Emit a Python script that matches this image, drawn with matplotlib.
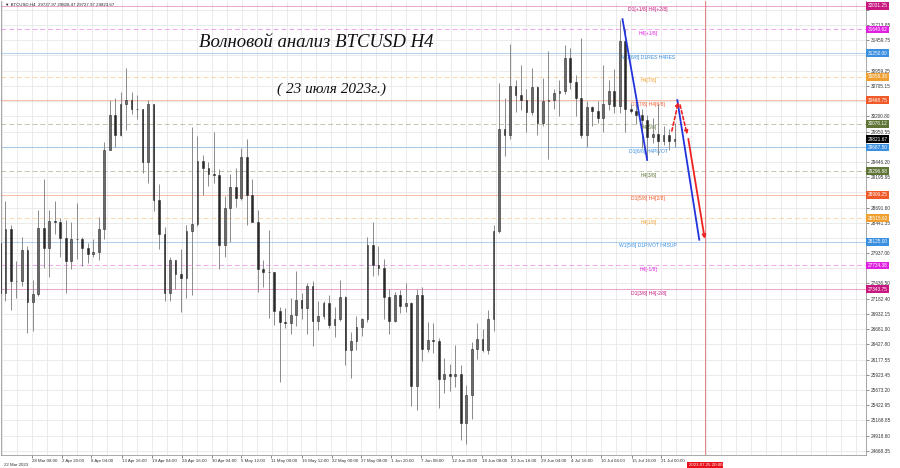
import numpy as np
import pandas as pd
import matplotlib
matplotlib.use("Agg")
import matplotlib.pyplot as plt
from matplotlib.transforms import blended_transform_factory

# BTCUSD, one bar per day from 22 Mar 2023 to 23 Jul 2023
start_date = "2023-03-22"
first_open = 28100
highs = [28870, 28800, 28400, 27800, 28200, 28050, 27500, 28650, 29170, 28650,
         28800, 28520, 28480, 28450, 28760, 28200, 28100, 28170, 28530, 29770,
         30470, 30500, 30600, 31000, 30600, 30560, 30320, 30480, 30410, 29090,
         28370, 27880, 27820, 28000, 28400, 30020, 29880, 29570, 29450, 29950,
         29330, 28880, 29250, 29350, 29680, 29820, 29170, 28650, 27820, 28320,
         27630, 27050, 27030, 27200, 27650, 27270, 27450, 27480, 27150, 27150,
         27250, 27050, 27500, 27230, 26630, 26900, 26860, 28200, 28450, 28050,
         27840, 27350, 27300, 27320, 27450, 27130, 27350, 27380, 26800, 26780,
         26530, 26200, 26100, 26420, 26080, 25750, 26470, 26780, 26680, 27000,
         28400, 30750, 30500, 31400, 30800, 31050, 30660, 31000, 30700, 30830,
         31280, 30650, 30800, 31380, 31330, 30880, 31500, 30450, 30380, 30450,
         31050, 30800, 30980, 31800, 31650, 30400, 30440, 30330, 30230, 30180,
         30400, 30050, 29990, 30100]
lows = [26600, 27150, 27000, 27200, 27400, 26620, 26650, 27230, 27700, 27550,
        28250, 27870, 27270, 27680, 27840, 27720, 27780, 27870, 27820, 28170,
        29640, 29700, 29870, 29970, 30240, 30150, 29270, 29100, 28630, 28000,
        27140, 27150, 27350, 26970, 27200, 27250, 28380, 28900, 29050, 29100,
        27670, 27870, 28130, 28700, 28820, 28400, 28700, 27300, 27380, 26870,
        26750, 25810, 26700, 26600, 26740, 26850, 26600, 26400, 26670, 26850,
        26700, 26550, 26820, 26080, 25870, 26330, 26570, 26800, 27560, 27580,
        26850, 26600, 26800, 26950, 26970, 25400, 25350, 26150, 26300, 26280,
        25380, 25620, 25650, 25720, 24850, 24780, 25200, 26180, 26300, 26270,
        26650, 28270, 29550, 29820, 30270, 30300, 29950, 30230, 29900, 30050,
        29500, 30330, 30200, 30580, 30650, 30200, 29850, 29700, 30050, 30100,
        29950, 30300, 30250, 30260, 29950, 30250, 30080, 29670, 29520, 29760,
        29570, 29720, 29640, 29700]
closes = [27280, 28330, 27480, 27480, 27990, 27130, 27260, 28350, 28030, 28470,
          28450, 28190, 27800, 28170, 28170, 28030, 27920, 27950, 28330, 29650,
          30230, 29900, 30400, 30480, 30320, 30320, 29440, 30400, 28820, 28250,
          27270, 27820, 27590, 27520, 28300, 28420, 29470, 29340, 29250, 29230,
          28070, 28680, 29030, 28850, 29530, 28900, 28450, 27680, 27620, 27620,
          26980, 26800, 26780, 26920, 27170, 27030, 27400, 26820, 26890, 27120,
          26750, 26850, 27220, 26330, 26480, 26720, 26850, 28080, 27740, 27700,
          27220, 26820, 27250, 27070, 27120, 25740, 27240, 26350, 26500, 26480,
          25850, 25940, 25900, 25930, 25130, 25590, 26350, 26520, 26340, 26850,
          28310, 30000, 29900, 30700, 30550, 30480, 30270, 30690, 30090, 30450,
          30480, 30590, 30620, 31160, 30770, 30500, 29900, 30350, 30290, 30170,
          30410, 30620, 30380, 31450, 30320, 30290, 30230, 30140, 29860, 29910,
          29800, 29900, 29790, 29824]

# Murrey levels drawn on the chart
level_prices = [32031.25, 31640.62, 31250.00, 30859.38, 30468.75, 30078.12, 29687.50,
                29296.88, 28906.25, 28515.62, 28125.00, 27734.38, 27343.75]
level_names = ["D1[+1/8] H4[+2/8]", "H4[+1/8]", "W1[6/8] D1RES H4RES", "H4[7/8]",
               "D1[7/8] H4[6/8]", "H4[5/8]", "D1[6/8] H4PIVOT", "H4[3/8]",
               "D1[5/8] H4[2/8]", "H4[1/8]", "W1[5/8] D1PIVOT H4SUP", "H4[-1/8]",
               "D1[3/8] H4[-2/8]"]
level_colors = ["#c8177f", "#e020e0", "#3a8fe0", "#f0a030", "#f05a28", "#5f7536", "#3a8fe0",
                "#5f7536", "#f05a28", "#f0a030", "#3a8fe0", "#e020e0", "#c8177f"]
level_dashed = [False, True, False, True, False, True, False, True, False, True, False, True, False]
current_price = 29821.67

price_ticks = [31967.95, 31713.85, 31459.75, 31209.50, 30959.25, 30705.15, 30454.90, 30200.80,
               29950.55, 29700.30, 29446.20, 29195.95, 28945.70, 28691.60, 28441.35, 28191.10,
               27937.00, 27686.75, 27436.50, 27182.40, 26932.15, 26681.90, 26427.80, 26177.55,
               25923.45, 25673.20, 25422.95, 25168.85, 24918.60, 24668.35]
time_ticks = ["28 Mar 08:00", "2 Apr 20:00", "8 Apr 04:00", "13 Apr 16:00", "19 Apr 04:00",
              "24 Apr 16:00", "30 Apr 04:00", "5 May 12:00", "11 May 00:00", "16 May 12:00",
              "22 May 00:00", "27 May 08:00", "1 Jun 20:00", "7 Jun 08:00", "12 Jun 20:00",
              "18 Jun 08:00", "23 Jun 16:00", "29 Jun 04:00", "4 Jul 16:00", "10 Jul 04:00",
              "15 Jul 16:00", "21 Jul 00:00"]

# hand drawn forecast lines (day from start, price)
blue_lines = [((114.0, 31810), (118.5, 29480)), ((124.0, 30470), (128.0, 28160))]
red_dashed = [((123.0, 29960), (124.2, 30440)), ((124.5, 30390), (125.8, 29900))]
red_solid = ((126.0, 29830), (129.0, 28175))
cursor_day = 129.1
cursor_label = "2023.07.25 20:00"

t0 = pd.Timestamp(start_date)
n = len(closes)
opens = np.r_[first_open, closes[:-1]]
highs = np.array(highs)
lows = np.array(lows)
closes = np.array(closes)
x = np.arange(n) + 0.5

fig = plt.figure(figsize=(9, 4.68), dpi=100)
ax = fig.add_axes([1 / 900, 1 - 455 / 468, 865 / 900, 454 / 468])
ax.set_xlim(0.69, 158.4)
ax.set_ylim(24597, 32111)

small = ["Liberation Sans", "DejaVu Sans"]

# grid
tick_days = [(pd.Timestamp(s + " 2023") - t0) / pd.Timedelta(days=1) for s in time_ticks]
step = np.mean(np.diff(tick_days)) / 2
vgrid = np.arange(tick_days[0] - 2 * step, 158.4, step)
for g in vgrid:
    ax.axvline(g, color="#e8e8e8", lw=0.6, zorder=0)
for p in price_ticks:
    ax.axhline(p, color="#e8e8e8", lw=0.6, zorder=0)

# levels
for p, name, c, d in zip(level_prices, level_names, level_colors, level_dashed):
    ax.axhline(p, color=c, lw=0.7, alpha=0.4, ls=(0, (5, 3)) if d else "-", zorder=1)
    ax.text(118.7, p - 25, name, color=c, fontsize=3.6, ha="center", va="top",
            family=small, zorder=2)

# candles
up = closes >= opens
ax.vlines(x, lows, highs, color="#8a8a8a", lw=0.7, zorder=3)
body_lo = np.minimum(opens, closes)
body_h = np.abs(closes - opens)
ax.bar(x[up], body_h[up], 0.32, bottom=body_lo[up], color="#6a6a6a",
       edgecolor="#2a2a2a", lw=0.4, zorder=4)
ax.bar(x[~up], body_h[~up], 0.32, bottom=body_lo[~up], color="#2a2a2a",
       edgecolor="#2a2a2a", lw=0.4, zorder=4)

# forecast
for (a, b) in blue_lines:
    ax.plot([a[0], b[0]], [a[1], b[1]], color="#2233dd", lw=1.3, zorder=6)
for (a, b) in red_dashed:
    ax.annotate("", xy=b, xytext=a, zorder=7,
                arrowprops=dict(arrowstyle="-|>", color="#ee2222", lw=1.2, ls=(0, (2, 1.5)),
                                mutation_scale=5, shrinkA=0, shrinkB=0))
ax.annotate("", xy=red_solid[1], xytext=red_solid[0], zorder=7,
            arrowprops=dict(arrowstyle="-|>", color="#ee2222", lw=1.3,
                            mutation_scale=5, shrinkA=0, shrinkB=0))

ax.axvline(cursor_day, color="#e07070", lw=0.6, zorder=5)

# axes look
for s in ax.spines.values():
    s.set_color("#999999")
    s.set_linewidth(0.6)
ax.spines["top"].set_visible(False)

# price labels that sit under a level box are covered in the chart
shown = [p if min(abs(p - q) for q in level_prices + [current_price]) > 70 else None
         for p in price_ticks]
ax.yaxis.tick_right()
ax.set_yticks(price_ticks)
ax.set_yticklabels(["%.2f" % p if p else "" for p in shown])
ax.tick_params(axis="y", length=2, width=0.4, pad=1.5, labelsize=3.4, colors="#333333")
ax.set_xticks(tick_days)
ax.set_xticklabels(time_ticks)
ax.tick_params(axis="x", length=2, width=0.4, pad=1, labelsize=3.2, colors="#333333")
for lbl in ax.get_xticklabels() + ax.get_yticklabels():
    lbl.set_family(small)
for lbl in ax.get_xticklabels():
    lbl.set_ha("left")

trans_y = blended_transform_factory(ax.transAxes, ax.transData)
trans_x = blended_transform_factory(ax.transData, ax.transAxes)
ax.text(0.003, -0.018, "22 Mar 2023", transform=ax.transAxes, fontsize=3.2,
        family=small, color="#333333", va="top", ha="left")
for p, c in zip(level_prices + [current_price], level_colors + ["#000000"]):
    ax.text(1.002, p, "%.2f" % p, transform=trans_y, fontsize=3.4, family=small,
            color="white", va="center", ha="left", clip_on=False, zorder=20,
            bbox=dict(boxstyle="square,pad=0.3", fc=c, ec="none"))
ax.text(cursor_day, -0.018, cursor_label, transform=trans_x, fontsize=3.2, family=small,
        color="white", va="top", ha="center", clip_on=False, zorder=20,
        bbox=dict(boxstyle="square,pad=0.3", fc="#e8101a", ec="none"))

# titles
ax.text(0.005, 0.993, "\u25bc BTCUSD,H4  29727.97 29828.47 29727.97 29823.67",
        transform=ax.transAxes, fontsize=3.2, family=small, va="center", ha="left",
        color="#222222")
ax.text(0.364, 0.9075, "Волновой анализ BTCUSD H4", transform=ax.transAxes,
        fontsize=13.5, family="Liberation Serif", style="italic", ha="center",
        va="center", color="#111111")
ax.text(0.382, 0.806, "( 23 июля 2023г.)", transform=ax.transAxes,
        fontsize=11, family="Liberation Serif", style="italic", ha="center",
        va="center", color="#111111")

fig.savefig("out.png", dpi=100, facecolor="white")
